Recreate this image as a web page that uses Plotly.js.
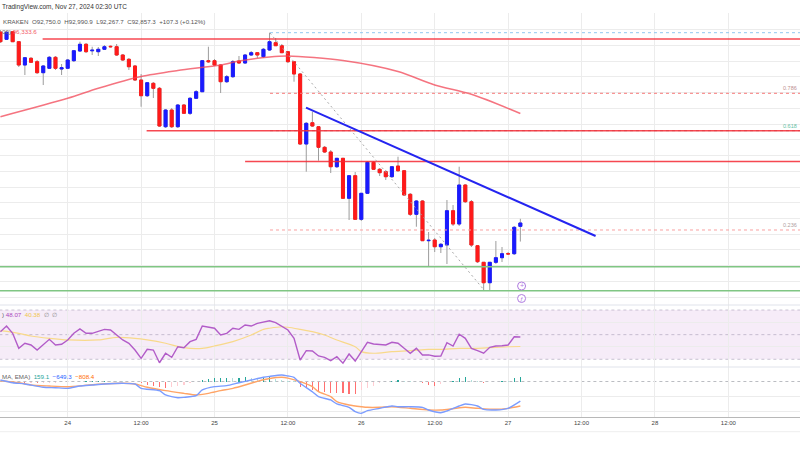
<!DOCTYPE html>
<html><head><meta charset="utf-8">
<script src="https://cdn.plot.ly/plotly-3.0.1.min.js"></script>
<style>html,body{margin:0;padding:0;background:#fff;overflow:hidden}#chart{width:800px;height:450px}</style>
</head><body><div id="chart"></div>
<script>
// All times are hours relative to 2024-11-24 00:00 UTC (hourly candles, BTC/USD KRAKEN)
const firstCandleHour = -11;
const opens = [98921,98689,98931,98613,97873,98086,97978,97629,97769,98118,97746,97769,98010,98318,98531,98324,98296,98372,98467,98454,98191,98054,97842,97397,96898,97292,97133,95914,96444,95914,96603,96340,96816,97025,98010,98010,97873,97343,97502,98000,97937,98191,98264,98137,98350,98581,98486,98296,97978,97588,95365,96041,95914,95260,95111,94644,94911,93641,94359,92974,93800,94784,94562,94486,94327,94666,94517,93768,93133,93555,92295,92317,92104,92158,93247,92825,94063,93533,92136,91609,90961,91609,91755,91882,91882,92750.0];
const highs = [98985,98953,98953,98635,98127,98127,98032,97873,98159,98159,97905,98064,98350,98613,98572,98454,98445,98508,98492,98540,98223,98096,97873,97587,97333,97333,97175,96476,96508,96635,96635,96857,97079,98032,98454,98064,97905,97556,98032,98159,98223,98318,98286,98413,98899,98731,98540,98318,98000,97619,96063,96391,95936,95302,95174,94921,94921,94381,94476,93809,94825,94825,94603,94540,94666,94962,94540,93809,93587,93587,92571,92381,92222,93587,93428,94644,94095,93587,92158,91618,91618,92286,92095,91936,92762,92990.9];
const lows = [98572,98667,98604,97810,97556,97937,97588,97238,97746,97715,97556,97746,97969,98286,98254,98191,98159,98350,98429,98159,98000,97715,97365,96549,96857,96825,95905,95873,95873,95873,96318,96286,96794,97016,97937,97842,96984,97302,97461,97905,97905,98159,98096,98096,98318,98477,98254,97937,97343,95333,94486,95905,94835,95079,94444,94603,93619,92952,92952,92920,93778,94540,94349,94222,94286,94476,93714,93079,92739,92286,91470,91936,91904,91555,92762,92762,93492,92095,91587,90730,90730,91555,91618,91841,91841,92267.7];
const closes = [98613,98912,98613,97873,98105,97959,97629,97842,98118,97769,97788,98032,98327,98531,98296,98343,98372,98454,98454,98191,98032,97819,97397,96898,97311,97133,95936,96444,95914,96603,96340,96816,97025,98010,97978,97873,97343,97502,97978,97937,98191,98264,98191,98372,98613,98486,98264,97978,97588,95365,96022,95936,95260,95111,94644,94911,93641,94359,92974,93800,94784,94562,94454,94327,94644,94517,93746,93133,93555,92295,92308,92104,92181,93247,92825,94063,93533,92158,91628,90961,91609,91755,91882,91876,92720,92857.3];

// Moving average (read at a few hours)
const maHours = [-11,0,5,12,18,25,28,33,36,45,54,60,66,74];
const maValues = [96232,96816,97134,97508,97699,97874,97999,98128,98159,98017,97667,97239,96943,96333.6];

// RSI and its moving average
const rsiHours = [-11,-10,-9,-8,-7,-6,-5,-4,-3,-2,-1,0,1,2,3,4,5,6,7,8,9,10,11,12,13,14,15,16,17,18,19,20,21,22,23,24,25,26,27,28,29,30,31,33,34,36,37,38,39,40,41,42,43,44,45,46,47,49,50,52,53,54,55,56,57,58,59,60,61,62,63,64,65,66,67,68,69,70,71,72,73,74];
const rsiValues = [52.4,57.0,51.1,38.9,43.0,41.6,37.5,41.6,46.2,41.6,42.2,45.7,51.1,54.6,51.1,51.1,52.4,54.3,53.8,49.7,45.7,43.0,37.5,30.8,38.1,37.5,27.2,34.9,31.6,40.2,39.4,44.3,46.2,57.0,56.4,55.2,49.7,51.1,55.2,54.3,57.8,57.0,59.2,61.3,59.7,53.8,47.0,29.4,37.0,36.7,32.7,31.6,28.9,32.1,26.8,34.3,28.6,43.8,42.4,41.6,43.8,43.0,38.9,34.9,38.9,33.5,33.6,32.5,32.7,43.5,40.8,50.3,47.0,38.9,37.0,34.9,39.7,40.8,41.0,41.6,48.3,48.07];
const rsiMaHours = [-11,-8,-6,-3,0,5,8,11,13,16,19,22,24,27,30,32,33,35,36,38,40,42,44,47,48,50,53,56,59,61,64,67,70,72,74];
const rsiMaValues = [53.2,51.1,48.9,47.0,45.7,45.7,47.8,47.0,45.7,43.0,39.4,38.9,40.8,44.3,49.7,54.3,55.2,56.4,56.0,54.3,52.4,49.7,45.7,40.2,36.2,34.9,36.2,37.0,38.1,38.1,38.9,38.9,39.7,40.2,40.38];

// MACD
const macdHours = [-11,-9,-7,-4,-2,0,2,4,6,9,11,12,15,16,18,19,21,22,24,26,28,30,32,33,35,36,37,38,40,41,43,44,46,47,48,49,51,53,54,56,58,59,61,62,64,65,67,68,70,72,74];
const macdValues = [50,-40,-83,-191,-204,-226,-149,-116,-83,-60,-83,-226,-303,-445,-534,-522,-468,-280,-171,-138,-40,50,139,170,215,182,139,-60,-337,-501,-610,-742,-852,-996,-1050,-963,-885,-808,-831,-831,-852,-940,-1030,-973,-808,-742,-808,-918,-940,-885,-649.3];
const signalHours = [-11,-8,-6,-3,0,3,5,9,11,13,16,19,21,23,25,27,29,31,33,35,36,38,40,41,43,44,46,48,49,51,53,56,59,61,63,65,67,70,72,74];
const signalValues = [26,-40,-116,-149,-171,-125,-93,-60,-83,-191,-303,-390,-445,-390,-303,-226,-116,5,100,139,110,-7,-171,-337,-501,-667,-776,-831,-852,-852,-831,-885,-940,-940,-897,-852,-885,-918,-885,-808.4];
const histHours = [-10,-9,-8,-7,-6,-5,-4,-3,-2,-1,0,1,2,3,4,5,6,7,8,9,10,11,12,13,14,15,16,17,18,19,20,21,22,23,24,25,26,27,28,29,30,31,32,33,34,35,36,37,38,39,40,41,42,43,44,45,46,47,48,49,50,51,52,53,54,55,56,57,58,59,60,61,62,63,64,65,66,67,68,69,70,71,72,73,74];
const histValues = [-25,-30,-40,-45,-40,-50,-45,-40,-35,-30,-25,-15,-10,10,15,20,20,15,10,5,-10,-30,-60,-110,-150,-190,-215,-190,-150,-110,-60,-20,60,90,100,110,120,110,130,140,120,100,110,158,70,60,30,10,-191,-226,-280,-314,-337,-390,-390,-390,-424,-424,-280,-226,-149,-60,-20,20,50,20,10,-20,-60,-105,-149,-83,-20,30,115,139,60,10,-60,-30,-10,20,10,115,159.1];

const xTickHours = [0,12,24,36,48,60,72,84,96,108];
const xTickText = ['24','12:00','25','12:00','26','12:00','27','12:00','28','12:00'];

// drawing levels (prices)
const resistanceLevels = [{p:98699,from:-4.1},{p:95788,from:12.9},{p:94810,from:29}];
const supportLevels = [91470,90708];
const trendLine = {h0:38.96,p0:96518,h1:86.3,p1:92444};
const fibLine = {h0:33.07,p0:98890,h1:68.06,p1:90730};
const fibLevels = [{p:98899,c:'#90c8f0',label:''},{p:96975,c:'#f77a7a',label:'0.786',lc:'#c09090'},{p:95788,c:'#a0a0a0',label:'0.618',lc:'#66c2a5'},{p:92635,c:'#f9a0a0',label:'0.236',lc:'#b0a0a0'}];

const BASE = Date.UTC(2024,10,24,0,0,0);
function toDate(h){ return new Date(BASE + Math.round(h*3600000)).toISOString().slice(0,19).replace('T',' '); }

const times = opens.map((_,i)=>toDate(firstCandleHour+i));
const bodyHi = opens.map((o,i)=>Math.max(o,closes[i]));
const bodyLo = opens.map((o,i)=>Math.min(o,closes[i]));
const UP='#1a1aff', DN='#ff1a1a', WICK='#9c9c9c';

const traces = [
 {type:'candlestick',x:times,open:opens,high:highs,low:lows,close:closes,xaxis:'x',yaxis:'y',
  increasing:{line:{color:WICK,width:1},fillcolor:UP},decreasing:{line:{color:WICK,width:1},fillcolor:DN},
  whiskerwidth:0,hoverinfo:'skip'},
 {type:'candlestick',x:times,open:opens,high:bodyHi,low:bodyLo,close:closes,xaxis:'x',yaxis:'y',
  increasing:{line:{color:UP,width:1},fillcolor:UP},decreasing:{line:{color:DN,width:1},fillcolor:DN},
  whiskerwidth:0,hoverinfo:'skip'},
 {type:'scatter',mode:'lines',x:maHours.map(toDate),y:maValues,xaxis:'x',yaxis:'y',
  line:{color:'rgba(242,70,85,0.75)',width:1.5,shape:'spline',smoothing:0.8},hoverinfo:'skip'},
 {type:'scatter',mode:'lines',x:rsiMaHours.map(toDate),y:rsiMaValues,xaxis:'x',yaxis:'y2',
  line:{color:'#f8d98a',width:1.2,shape:'spline',smoothing:0.8},hoverinfo:'skip'},
 {type:'scatter',mode:'lines',x:rsiHours.map(toDate),y:rsiValues,xaxis:'x',yaxis:'y2',
  line:{color:'#b25cc8',width:1.4},hoverinfo:'skip'},
 {type:'bar',x:histHours.map(toDate),y:histValues,xaxis:'x',yaxis:'y3',width:700000,
  marker:{color:histValues.map((v,i)=>{const prev=i>0?histValues[i-1]:v; return v>=0?(v>=prev?'#26a69a':'#b2dfdb'):(v<=prev?'#ff7070':'#ffcdd2');}),line:{width:0}},hoverinfo:'skip'},
 {type:'scatter',mode:'lines',x:signalHours.map(toDate),y:signalValues,xaxis:'x',yaxis:'y3',
  line:{color:'#ffa466',width:1.4,shape:'spline',smoothing:0.6},hoverinfo:'skip'},
 {type:'scatter',mode:'lines',x:macdHours.map(toDate),y:macdValues,xaxis:'x',yaxis:'y3',
  line:{color:'#7b9cff',width:1.4,shape:'spline',smoothing:0.6},hoverinfo:'skip'}
];

const shapes = [];
const farL = toDate(-20), farR = toDate(130);
// RSI band
shapes.push({type:'rect',xref:'x',yref:'y2',x0:farL,x1:farR,y0:30,y1:70,fillcolor:'rgba(156,39,176,0.09)',line:{width:0},layer:'below'});
[70,50,30].forEach(v=>shapes.push({type:'line',xref:'x',yref:'y2',x0:farL,x1:farR,y0:v,y1:v,line:{color:'rgba(140,130,160,0.45)',width:1,dash:'3px,3px'},layer:'below'}));
shapes.push({type:'line',xref:'x',yref:'y3',x0:farL,x1:farR,y0:0,y1:0,line:{color:'rgba(120,123,134,0.5)',width:1,dash:'3px,3px'},layer:'below'});
// fib levels
fibLevels.forEach(f=>shapes.push({type:'line',xref:'x',yref:'y',x0:toDate(fibLine.h0),x1:farR,y0:f.p,y1:f.p,line:{color:f.c,width:1,dash:'3px,3px'}}));
// resistance (red) and support (green)
resistanceLevels.forEach(r=>shapes.push({type:'line',xref:'x',yref:'y',x0:toDate(r.from),x1:farR,y0:r.p,y1:r.p,line:{color:'rgba(244,40,50,0.85)',width:1.5}}));
supportLevels.forEach(p=>shapes.push({type:'line',xref:'x',yref:'y',x0:farL,x1:farR,y0:p,y1:p,line:{color:'#80c683',width:1.5}}));
// fib diagonal and trend line
shapes.push({type:'line',xref:'x',yref:'y',x0:toDate(fibLine.h0),y0:fibLine.p0,x1:toDate(fibLine.h1),y1:fibLine.p1,line:{color:'#a8a8a8',width:1,dash:'2px,3px'}});
shapes.push({type:'line',xref:'x',yref:'y',x0:toDate(trendLine.h0),y0:trendLine.p0,x1:toDate(trendLine.h1),y1:trendLine.p1,line:{color:'#2424f0',width:2}});
// event markers
[90857,90460].forEach(p=>shapes.push({type:'circle',xref:'x',yref:'y',xsizemode:'pixel',ysizemode:'pixel',xanchor:toDate(74.2),yanchor:p,x0:-4,x1:4,y0:-4,y1:4,line:{color:'#b07ce0',width:1},fillcolor:'#fff'}));
// pane separators
[0.32222,0.18444].forEach(y=>shapes.push({type:'line',xref:'paper',yref:'paper',x0:0,x1:1,y0:y,y1:y,line:{color:'#e0e3eb',width:1}}));
shapes.push({type:'line',xref:'paper',yref:'paper',x0:0,x1:1,y0:0.0407,y1:0.0407,line:{color:'#eeeeee',width:1}});

const F = 'Liberation Sans, Arial, sans-serif';
const ann = [];
function txt(x,y,t,size,color){ ann.push({xref:'paper',yref:'paper',x:x/800,y:1-y/450,xanchor:'left',yanchor:'middle',text:t,showarrow:false,font:{family:F,size:size,color:color}}); }
txt(0,7,'TradingView.com, Nov 27, 2024 02:30 UTC',6.5,'#333');
txt(1,22,'KRAKEN  O92,750.0  H92,990.9  L92,267.7  C92,857.3  +107.3 (+0.12%)',6.2,'#555');
txt(0,31,'00) <span style="color:#f25a66">96,333.6</span>',6.2,'#666');
txt(0,314,') <span style="color:#ab47bc">48.07</span>  <span style="color:#f0c64a">40.38</span>  <span style="color:#888">∅  ∅</span>',6.2,'#666');
txt(0,376,'MA, EMA)  <span style="color:#26a69a">159.1</span>  <span style="color:#2962ff">−649.3</span>  <span style="color:#ff6d00">−808.4</span>',6.2,'#666');
fibLevels.filter(f=>f.label).forEach(f=>ann.push({xref:'paper',yref:'y',x:1,y:f.p,xanchor:'right',yanchor:'bottom',xshift:-1,text:f.label,showarrow:false,font:{family:F,size:5.5,color:f.lc}}));
ann.push({xref:'x',yref:'y',x:toDate(74.2),y:90857,text:'+',showarrow:false,font:{family:F,size:7,color:'#b07ce0'}});
ann.push({xref:'x',yref:'y',x:toDate(74.2),y:90460,text:'ƒ',showarrow:false,font:{family:F,size:6,color:'#b07ce0'}});

const grid = '#ececec';
const layout = {
 width:800,height:450,margin:{l:0,r:0,t:0,b:0},paper_bgcolor:'#fff',plot_bgcolor:'#fff',showlegend:false,
 boxmode:'overlay',bargap:0,
 xaxis:{type:'date',range:[toDate(-11.07),toDate(119.72)],anchor:'y3',tickmode:'array',tickvals:xTickHours.map(toDate),ticktext:xTickText,
   showgrid:true,gridcolor:grid,gridwidth:1,ticks:'',tickfont:{family:F,size:6,color:'#444'},showline:true,linecolor:'#b8b8b8',linewidth:1.5,
   zeroline:false,rangeslider:{visible:false},fixedrange:true},
 yaxis:{domain:[0.32222,0.97044],range:[90253.6,99515],tick0:0,dtick:500,showticklabels:false,gridcolor:grid,zeroline:false,fixedrange:true},
 yaxis2:{domain:[0.18444,0.32222],range:[23.75,74.06],tickmode:'array',tickvals:[40,60],showticklabels:false,gridcolor:grid,zeroline:false,fixedrange:true},
 yaxis3:{domain:[0.074,0.18444],range:[-1161.6,478.5],tickmode:'array',tickvals:[-1000,-500],showticklabels:false,gridcolor:grid,zeroline:false,fixedrange:true},
 shapes:shapes,annotations:ann
};
Plotly.newPlot('chart',traces,layout,{staticPlot:true,displayModeBar:false});
</script></body></html>
